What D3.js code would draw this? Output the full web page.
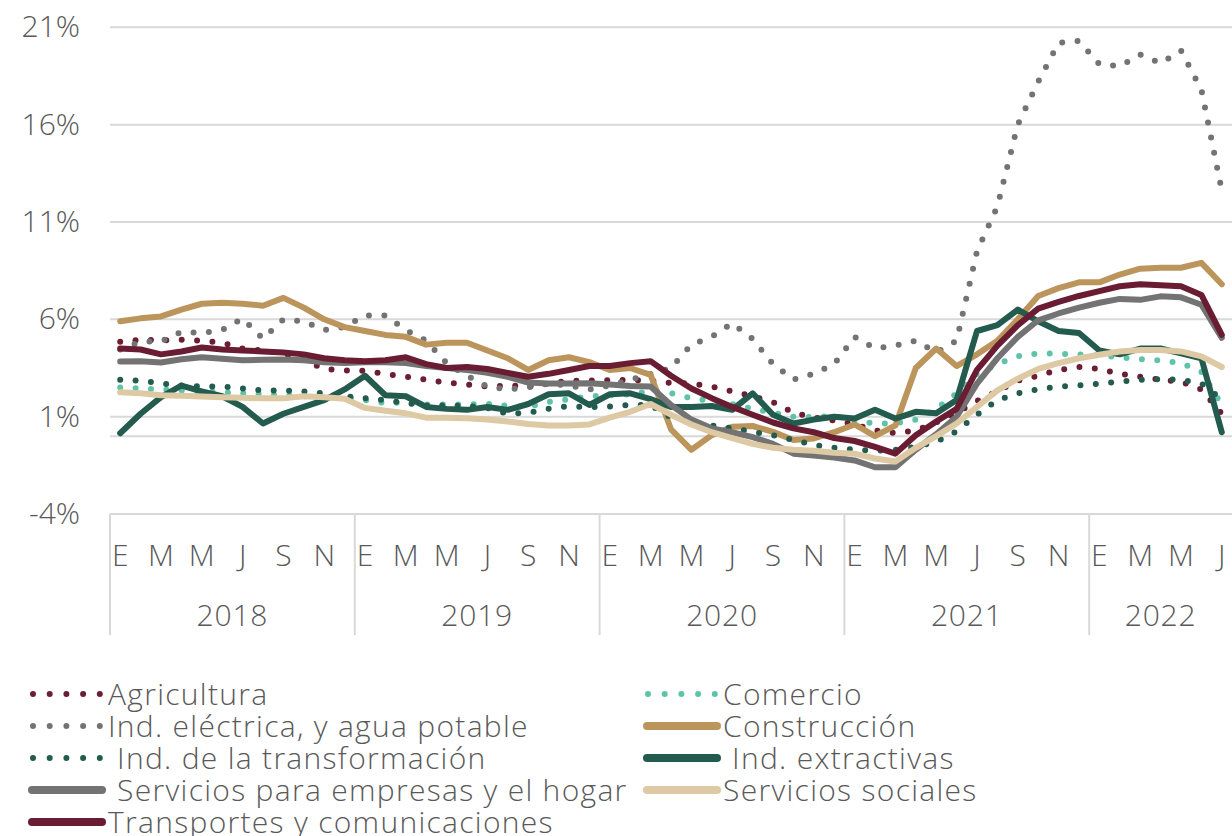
<!DOCTYPE html>
<html>
<head>
<meta charset="utf-8">
<script src="https://cdn.jsdelivr.net/npm/d3@7"></script>
<style>
  body { margin: 0; background: #fff; }
  text { font-family: "Open Sans", "Noto Sans", sans-serif; font-weight: 300; fill: #595959; white-space: pre; }
</style>
</head>
<body>
<svg id="chart" width="1232" height="836"></svg>
<script>
// categories: Jan 2018 .. Jul 2022
const years = ["2018", "2019", "2020", "2021", "2022"];
const monthsPerYear = [12, 12, 12, 12, 7];
const monthLetters = ["E", "F", "M", "A", "M", "J", "J", "A", "S", "O", "N", "D"];
const yTicks = [-4, 1, 6, 11, 16, 21];

// annual growth, %
const agricultura = [4.85, 4.95, 4.92, 4.95, 4.9, 4.8, 4.5, 4.4, 4.25, 3.9, 3.45, 3.38,
  3.35, 3.2, 3.05, 2.9, 2.75, 2.65, 2.55, 2.6, 2.55, 2.7, 2.85, 2.85,
  2.88, 2.89, 2.85, 2.73, 2.7, 2.55, 2.3, 2.05, 1.75, 1.2, 0.95, 0.8,
  0.6, 0.3, 0.15, 0.3, 0.7, 1.2, 1.8, 2.3, 2.85, 3.1, 3.4, 3.55,
  3.45, 3.2, 3.05, 2.9, 2.8, 2.4, 1.15];
const comercio = [2.5, 2.45, 2.4, 2.35, 2.3, 2.25, 2.2, 2.15, 2.1, 2.05, 2.05, 2.0,
  1.85, 1.7, 1.72, 1.62, 1.62, 1.63, 1.66, 1.55, 1.5, 1.75, 1.9, 2.05,
  2.1, 2.15, 2.3, 2.2, 1.95, 1.8, 1.65, 1.4, 1.2, 1.0, 0.97, 1.05,
  0.8, 0.65, 0.65, 0.85, 1.4, 2.2, 3.2, 3.7, 4.1, 4.25, 4.23, 4.2,
  4.15, 4.05, 3.95, 3.88, 3.75, 3.3, 1.6];
const electrica = [4.45, 4.86, 4.86, 5.35, 5.3, 5.45, 6.05, 5.0, 6.0, 5.9, 5.45, 5.6,
  6.2, 6.2, 5.45, 4.9, 3.75, 3.1, 2.55, 2.4, 2.5, 2.7, 2.6, 2.4,
  2.6, 2.9, 3.2, 3.5, 4.7, 5.1, 5.8, 5.0, 3.7, 2.9, 3.2, 3.7,
  5.1, 4.5, 4.65, 4.9, 4.3, 4.9, 9.5, 11.8, 16.0, 18.2, 20.2, 20.3,
  19.1, 19.0, 19.6, 19.15, 19.8, 17.8, 12.6];
const construccion = [5.9, 6.05, 6.15, 6.5, 6.8, 6.85, 6.8, 6.7, 7.1, 6.6, 6.0, 5.6,
  5.4, 5.2, 5.1, 4.7, 4.8, 4.8, 4.4, 4.0, 3.4, 3.9, 4.05, 3.8,
  3.4, 3.5, 3.15, 0.35, -0.7, 0.05, 0.48, 0.52, 0.22, -0.2, -0.12, 0.2,
  0.6, 0.0, 0.55, 3.5, 4.5, 3.6, 4.2, 4.9, 6.0, 7.2, 7.6, 7.9,
  7.9, 8.3, 8.6, 8.65, 8.65, 8.9, 7.8];
const transformacion = [2.9, 2.85, 2.7, 2.6, 2.55, 2.55, 2.45, 2.35, 2.35, 2.3, 2.2, 2.05,
  1.95, 1.85, 1.7, 1.57, 1.58, 1.55, 1.45, 1.15, 1.2, 1.4, 1.55, 1.48,
  1.52, 1.6, 1.6, 0.95, 0.75, 0.55, 0.4, 0.22, 0.05, -0.2, -0.45, -0.6,
  -0.7, -0.75, -0.7, -0.55, -0.3, 0.25, 1.1, 1.85, 2.2, 2.4, 2.55, 2.6,
  2.7, 2.8, 2.9, 2.92, 2.9, 2.7, 1.9];
const extractivas = [0.15, 1.15, 2.0, 2.6, 2.3, 2.05, 1.5, 0.65, 1.15, 1.5, 1.85, 2.4,
  3.1, 2.1, 2.05, 1.5, 1.4, 1.35, 1.5, 1.35, 1.65, 2.15, 2.2, 1.6,
  2.15, 2.2, 1.9, 1.5, 1.5, 1.55, 1.35, 2.2, 1.1, 0.65, 0.85, 1.0,
  0.9, 1.35, 0.9, 1.25, 1.17, 1.86, 5.4, 5.7, 6.5, 5.9, 5.4, 5.3,
  4.4, 4.2, 4.5, 4.5, 4.25, 4.0, 0.2];
const servEmpresas = [3.83, 3.85, 3.78, 3.95, 4.05, 3.97, 3.9, 3.92, 3.93, 3.9, 3.8, 3.75,
  3.8, 3.8, 3.75, 3.6, 3.5, 3.4, 3.25, 3.05, 2.75, 2.7, 2.7, 2.72,
  2.65, 2.58, 2.55, 1.6, 0.85, 0.4, 0.2, -0.05, -0.4, -0.9, -1.0, -1.1,
  -1.25, -1.6, -1.6, -0.7, 0.1, 1.0, 2.7, 4.0, 5.1, 5.95, 6.3, 6.6,
  6.85, 7.05, 7.0, 7.18, 7.13, 6.75, 5.05];
const servSociales = [2.25, 2.2, 2.1, 2.08, 2.03, 2.0, 1.97, 1.94, 1.94, 2.05, 2.0, 1.92,
  1.45, 1.3, 1.17, 0.95, 0.95, 0.92, 0.85, 0.75, 0.62, 0.55, 0.55, 0.6,
  0.95, 1.25, 1.65, 1.1, 0.6, 0.2, -0.1, -0.4, -0.6, -0.7, -0.75, -0.85,
  -0.9, -1.15, -1.3, -0.6, 0.0, 0.65, 1.5, 2.35, 2.95, 3.45, 3.75, 4.0,
  4.18, 4.35, 4.43, 4.43, 4.35, 4.1, 3.55];
const transportes = [4.5, 4.45, 4.2, 4.35, 4.55, 4.45, 4.4, 4.35, 4.3, 4.2, 4.0, 3.9,
  3.85, 3.9, 4.05, 3.7, 3.5, 3.55, 3.45, 3.25, 3.05, 3.2, 3.4, 3.6,
  3.6, 3.75, 3.85, 3.1, 2.45, 1.95, 1.5, 1.1, 0.7, 0.4, 0.2, -0.1,
  -0.25, -0.55, -0.9, 0.05, 0.75, 1.4, 3.4, 4.65, 5.7, 6.55, 6.9, 7.2,
  7.45, 7.7, 7.8, 7.75, 7.7, 7.25, 5.2];

const series = [
  { name: "Agricultura", values: agricultura, color: "#6b1e34", dotted: true },
  { name: "Comercio", values: comercio, color: "#5ec3a8", dotted: true },
  { name: "Ind. eléctrica, y agua potable", values: electrica, color: "#737373", dotted: true },
  { name: "Construcción", values: construccion, color: "#bc955c", dotted: false },
  { name: " Ind. de la transformación", values: transformacion, color: "#235b4e", dotted: true },
  { name: " Ind. extractivas", values: extractivas, color: "#235b4e", dotted: false },
  { name: " Servicios para empresas y el hogar", values: servEmpresas, color: "#737373", dotted: false },
  { name: "Servicios sociales", values: servSociales, color: "#ddc9a3", dotted: false },
  { name: "Transportes y comunicaciones", values: transportes, color: "#691c32", dotted: false }
];

const categories = [];
years.forEach((yr, k) => {
  for (let m = 0; m < monthsPerYear[k]; m++) categories.push({ key: yr + "-" + m, year: yr, m: m });
});

const svg = d3.select("#chart");
const plotL = 110, plotR = 1232, plotT = 27.3, plotB = 514;
const fs = 30;

const x = d3.scalePoint().domain(categories.map(d => d.key)).range([plotL, plotR]).padding(0.5);
const y = d3.scaleLinear().domain([-4, 21]).range([plotB, plotT]);
const step = x.step();

// gridlines
svg.append("g").selectAll("line").data(yTicks.concat([0])).join("line")
  .attr("x1", plotL).attr("x2", plotR)
  .attr("y1", d => y(d)).attr("y2", d => y(d))
  .attr("stroke", "#d9d9d9").attr("stroke-width", 2);

// y axis labels
const yAxis = d3.axisLeft(y).tickValues(yTicks).tickFormat(d => d + "%").tickSize(0).tickPadding(0);
const ya = svg.append("g").attr("transform", "translate(80,0)").call(yAxis);
ya.select(".domain").remove();
ya.attr("font-family", null).attr("font-size", null);
ya.selectAll("text").attr("font-size", fs).style("fill", "#595959");

// category axis: month letters, years, separators
let start = 0;
const yearStarts = [];
years.forEach((yr, k) => { yearStarts.push(start); start += monthsPerYear[k]; });

svg.append("g").selectAll("line").data(yearStarts).join("line")
  .attr("x1", d => plotL + d * step).attr("x2", d => plotL + d * step)
  .attr("y1", plotB).attr("y2", 635)
  .attr("stroke", "#d9d9d9").attr("stroke-width", 2);

svg.append("g").selectAll("text").data(categories.filter(d => d.m % 2 === 0)).join("text")
  .attr("x", d => x(d.key)).attr("y", 555 + fs * 0.36)
  .attr("text-anchor", "middle").attr("font-size", fs)
  .text(d => monthLetters[d.m]);

svg.append("g").selectAll("text").data(years).join("text")
  .attr("x", (d, k) => plotL + (yearStarts[k] + monthsPerYear[k] / 2) * step)
  .attr("y", 615 + fs * 0.36)
  .attr("text-anchor", "middle").attr("font-size", fs)
  .style("letter-spacing", "0.8px")
  .text(d => d);

// lines
const line = d3.line().x((d, i) => x(categories[i].key)).y(d => y(d));
svg.append("g").selectAll("path").data(series).join("path")
  .attr("d", d => line(d.values))
  .attr("fill", "none")
  .attr("stroke", d => d.color)
  .attr("stroke-width", 6)
  .attr("stroke-linejoin", "round")
  .attr("stroke-linecap", "round")
  .attr("stroke-dasharray", d => d.dotted ? "0 15.4" : null);

// legend
const legend = svg.append("g").selectAll("g").data(series).join("g")
  .attr("transform", (d, i) => `translate(${i % 2 ? 645 : 30},${694 + Math.floor(i / 2) * 32})`);
legend.append("line")
  .attr("x1", d => d.dotted ? 3 : 2).attr("x2", d => d.dotted ? 70 : 72)
  .attr("stroke", d => d.color).attr("stroke-width", d => d.dotted ? 6 : 8)
  .attr("stroke-linecap", "round")
  .attr("stroke-dasharray", d => d.dotted ? "0 16.7" : null);
legend.append("text")
  .attr("x", 78).attr("y", fs * 0.36).attr("font-size", fs)
  .style("letter-spacing", "1.3px")
  .text(d => d.name);
</script>
</body>
</html>
